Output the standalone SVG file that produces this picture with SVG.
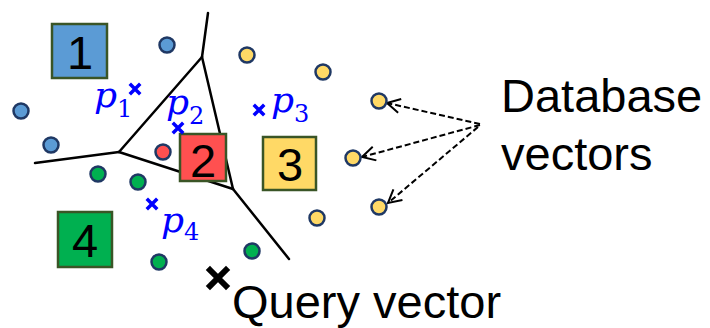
<svg xmlns="http://www.w3.org/2000/svg" width="710" height="328" viewBox="0 0 710 328">
  <defs>
    <marker id="open-arrow" viewBox="0 0 16 16" refX="15" refY="8" markerWidth="16" markerHeight="16" markerUnits="userSpaceOnUse" orient="auto">
      <path d="M2,1 L15,8 L2,15" fill="none" stroke="#000" stroke-width="2"/>
    </marker>
  </defs>
  <style>
    .edge { stroke: #000; stroke-width: 2.5; fill: none; stroke-linecap: round; }
    .pointer { stroke: #000; stroke-width: 2; stroke-dasharray: 6 3; fill: none; }
    .vec { stroke: #1F3864; stroke-width: 2.5; }
    .blue { fill: #5B9BD5; }
    .red { fill: #FF5050; }
    .yellow { fill: #FFD966; }
    .green { fill: #00B050; }
    .box { stroke: #3A5526; stroke-width: 2.5; }
    .digit { font-family: "Liberation Sans", Arial, sans-serif; font-size: 47px; fill: #000; text-anchor: middle; }
    .label { font-family: "Liberation Sans", Arial, sans-serif; font-size: 47px; fill: #000; }
    .cent { stroke: #0000FF; stroke-width: 3.5; stroke-linecap: square; }
    .math { font-family: "DejaVu Serif", "Liberation Serif", serif; font-style: italic; fill: #0000FF; font-size: 36px; }
    .sub { font-style: normal; font-size: 24px; }
    .query { stroke: #000; stroke-width: 6; stroke-linecap: square; }
  </style>

  <!-- Voronoi cell boundaries -->
  <g id="connectors">
    <line class="edge" x1="208" y1="13" x2="202" y2="57"/>
    <line class="edge" x1="202" y1="57" x2="119" y2="152"/>
    <line class="edge" x1="202" y1="57" x2="233" y2="189"/>
    <line class="edge" x1="119" y1="152" x2="35" y2="163"/>
    <line class="edge" x1="119" y1="152" x2="233" y2="189"/>
    <line class="edge" x1="233" y1="189" x2="289" y2="259"/>
    <!-- pointers from the label to sample vectors -->
    <line class="pointer" x1="480" y1="124" x2="387" y2="103" marker-end="url(#open-arrow)"/>
    <line class="pointer" x1="480" y1="125" x2="362" y2="157" marker-end="url(#open-arrow)"/>
    <line class="pointer" x1="478" y1="127" x2="388" y2="203" marker-end="url(#open-arrow)"/>
  </g>

  <!-- database vectors -->
  <g id="vectors">
    <circle class="vec blue" cx="167" cy="45" r="7.5"/>
    <circle class="vec blue" cx="21" cy="111" r="7.5"/>
    <circle class="vec blue" cx="51" cy="145" r="7.5"/>
    <circle class="vec red" cx="163" cy="152" r="7.5"/>
    <circle class="vec yellow" cx="247" cy="55" r="7.5"/>
    <circle class="vec yellow" cx="323" cy="72" r="7.5"/>
    <circle class="vec yellow" cx="379" cy="101" r="7.5"/>
    <circle class="vec yellow" cx="353" cy="158" r="7.5"/>
    <circle class="vec yellow" cx="379" cy="207" r="7.5"/>
    <circle class="vec yellow" cx="317" cy="218" r="7.5"/>
    <circle class="vec green" cx="98" cy="174" r="7.5"/>
    <circle class="vec green" cx="138" cy="182" r="7.5"/>
    <circle class="vec green" cx="159" cy="262" r="7.5"/>
    <circle class="vec green" cx="252" cy="251" r="7.5"/>
  </g>

  <!-- cluster labels -->
  <g id="cluster-1">
    <rect class="box blue" x="52" y="24" width="55" height="54"/>
    <text class="digit" x="80" y="69">1</text>
  </g>
  <g id="cluster-2">
    <rect class="box red" x="180" y="134" width="46" height="47"/>
    <text class="digit" x="203" y="177">2</text>
  </g>
  <g id="cluster-3">
    <rect class="box yellow" x="263" y="137" width="53" height="53"/>
    <text class="digit" x="290" y="181">3</text>
  </g>
  <g id="cluster-4">
    <rect class="box green" x="58" y="212" width="54" height="55"/>
    <text class="digit" x="85" y="257">4</text>
  </g>

  <!-- centroids -->
  <g id="centroid-1">
    <path class="cent" d="M131,85 L139,93 M139,85 L131,93"/>
    <text class="math" x="94" y="107">p<tspan class="sub" dy="10">1</tspan></text>
  </g>
  <g id="centroid-2">
    <path class="cent" d="M174,124 L182,132 M182,124 L174,132"/>
    <text class="math" x="166" y="114">p<tspan class="sub" dy="10">2</tspan></text>
  </g>
  <g id="centroid-3">
    <path class="cent" d="M255,106 L263,114 M263,106 L255,114"/>
    <text class="math" x="271" y="112">p<tspan class="sub" dy="10">3</tspan></text>
  </g>
  <g id="centroid-4">
    <path class="cent" d="M148,200 L156,208 M156,200 L148,208"/>
    <text class="math" x="161" y="232">p<tspan class="sub" dy="8">4</tspan></text>
  </g>

  <!-- query -->
  <g id="query">
    <path class="query" d="M210,270 L226,286 M226,270 L210,286"/>
    <text class="label" x="232" y="318">Query vector</text>
  </g>

  <g id="database-label">
    <text class="label" x="501" y="112">Database</text>
    <text class="label" x="501" y="170">vectors</text>
  </g>
</svg>
